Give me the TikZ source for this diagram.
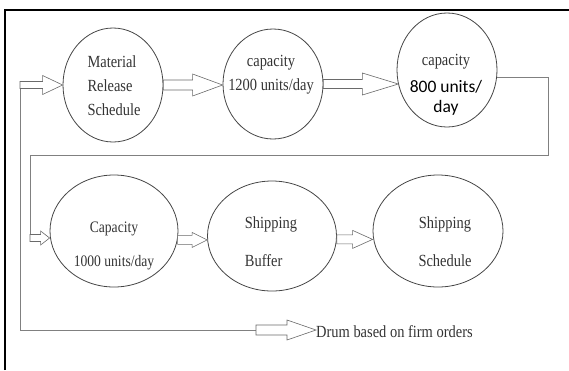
\documentclass[tikz,border=0pt]{standalone}
\usepackage{fontspec}
\newfontfamily\tnr[FakeStretch=0.85]{Liberation Serif}
\newfontfamily\cbr{Carlito}
\usepackage{tikz}
\usetikzlibrary{shapes.geometric}
\usetikzlibrary{calc}
\definecolor{ringgray}{HTML}{454545}
\definecolor{linegray}{HTML}{808080}
\definecolor{inkgray}{HTML}{333333}
\tikzset{stage/.style={ellipse, draw=ringgray, line width=0.8pt, inner sep=0pt}}
\tikzset{blk/.style={draw=ringgray!80, fill=white, line width=0.6pt}}
\tikzset{link/.style={draw=linegray, line width=1pt}}
\tikzset{lbl/.style={text=inkgray, inner sep=0pt, font=\tnr\fontsize{17}{24}\selectfont}}
\newcommand{\blockarrow}[5]{%
  \draw[blk] let \p1=#1, \p2=#2 in
    (\x1,\y1+#3pt) -- (\x2-#5pt,\y1+#3pt) -- (\x2-#5pt,\y1+#4pt) -- (\x2,\y1)
    -- (\x2-#5pt,\y1-#4pt) -- (\x2-#5pt,\y1-#3pt) -- (\x1,\y1-#3pt) -- cycle;}

\begin{document}
\begin{tikzpicture}[x=1pt,y=-1pt]
   \useasboundingbox (0,0) rectangle (569,370);
   \draw[line width=2.4pt] (5,370) -- (5,10) -- (569,10);

   \node[stage, minimum width=100pt, minimum height=114pt] (MRS)   at (113,85)  {};
   \node[stage, minimum width=100pt, minimum height=110pt] (C1200) at (273,84)  {};
   \node[stage, minimum width=100pt, minimum height=114pt] (C800)  at (447,70)  {};
   \node[stage, minimum width=128pt, minimum height=112pt] (C1000) at (114,231) {};
   \node[stage, minimum width=129pt, minimum height=110pt] (SB)    at (272,236) {};
   \node[stage, minimum width=130pt, minimum height=112pt] (SS)    at (438,231) {};

   \node[lbl, align=left]   (tMRS)   at (114,86) {Material\\Release\\Schedule};
   \node[lbl, align=center] (tC1200) at (271,75) {capacity\\1200 units/day};
   \node[lbl, align=center, text=black, font=\cbr\fontsize{17.5}{20}\selectfont] (tC800) at (446,85)
      {{\tnr\color{inkgray}\fontsize{17}{20}\selectfont capacity}\\[7pt]800 units/\\day};
   \node[lbl, align=center, font=\tnr\fontsize{16}{34}\selectfont] (tC1000) at (114,246) {Capacity\\1000 units/day};
   \node[lbl, align=left,   font=\tnr\fontsize{17}{38}\selectfont] (tSB) at (271,242) {Shipping\\Buffer};
   \node[lbl, align=center, font=\tnr\fontsize{17}{38}\selectfont] (tSS) at (445,242) {Shipping\\Schedule};
   \node[lbl, anchor=base west] (drum) at (316,337) {Drum based on firm orders};

   \coordinate (in1)    at (20,85);
   \coordinate (turnR)  at (548,155);
   \coordinate (in4)    at (30,238);
   \coordinate (drumin) at (256,330);

   \draw[link] (C800.-8) -| (turnR) -| (in4);
   \draw[link] (in1) |- (drumin);

   \blockarrow{(in1)}{(MRS.west)}{3.5}{9.5}{20}
   \blockarrow{(MRS.east)}{(C1200.west)}{5}{11}{30}
   \blockarrow{(C1200.east)}{(C800.197)}{4.5}{11}{36}
   \blockarrow{(in4)}{(C1000.west)}{3.5}{7}{9}
   \blockarrow{(C1000.-8)}{(SB.west)}{4.5}{7.5}{15}
   \blockarrow{(SB.-3)}{(SS.west)}{4.5}{9}{20}
   \blockarrow{(drumin)}{(drum.west)}{5}{10}{29}
\end{tikzpicture}
\end{document}
